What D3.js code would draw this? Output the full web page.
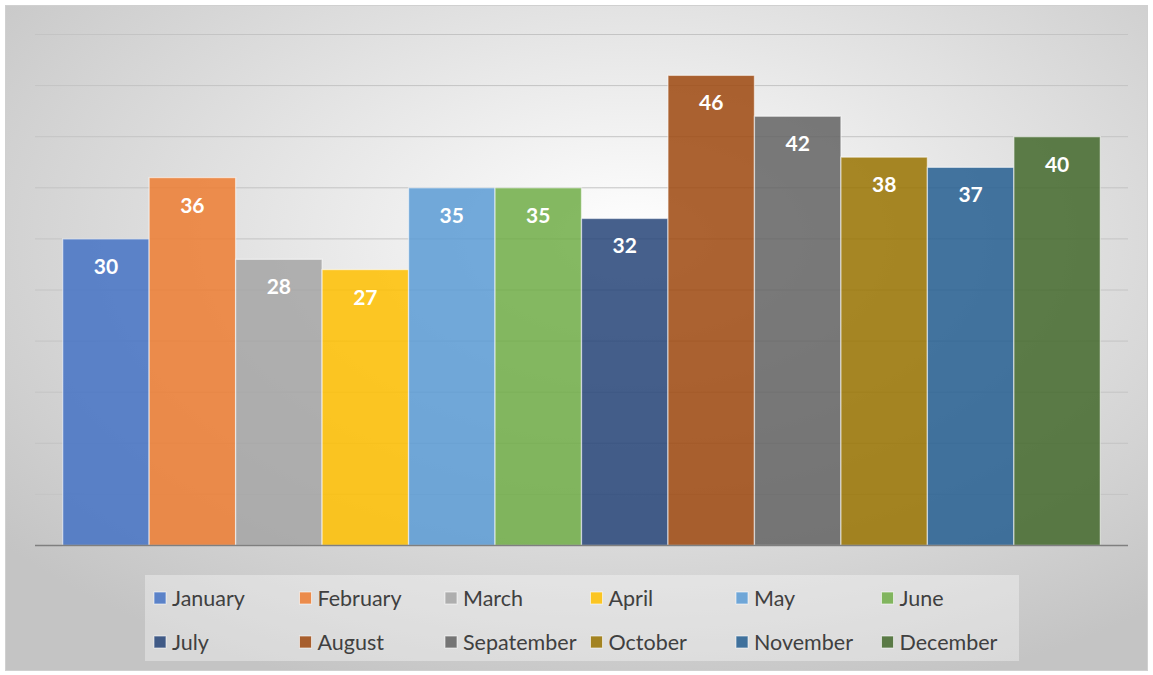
<!DOCTYPE html>
<html>
<head>
<meta charset="utf-8">
<script src="https://cdn.jsdelivr.net/npm/d3@7"></script>
<style>
  body { margin: 0; background: #fff; }
  svg { display: block; font-family: Lato, "Open Sans", sans-serif; }
</style>
</head>
<body>
<svg width="1153" height="675"></svg>
<script>
// months and their values
var months = ["January", "February", "March", "April", "May", "June",
              "July", "August", "Sepatember", "October", "November", "December"];
var values = [30, 36, 28, 27, 35, 35, 32, 46, 42, 38, 37, 40];
var colors = ["#4472C4", "#ED7D31", "#A5A5A5", "#FFC000", "#5B9BD5", "#70AD47",
              "#264478", "#9E480E", "#636363", "#997300", "#255E91", "#43682B"];
var yTicks = [0, 5, 10, 15, 20, 25, 30, 35, 40, 45, 50];

var svg = d3.select("svg");

var defs = svg.append("defs");
var grad = defs.append("radialGradient")
    .attr("id", "bg")
    .attr("cx", "55%").attr("cy", "35%").attr("r", "72%");
grad.append("stop").attr("offset", "0%").attr("stop-color", "#ffffff");
grad.append("stop").attr("offset", "100%").attr("stop-color", "#c4c4c4");

// chart area
svg.append("rect")
    .attr("x", 5.5).attr("y", 5.5)
    .attr("width", 1142).attr("height", 665)
    .attr("fill", "url(#bg)")
    .attr("stroke", "#d0d0d0")
    .attr("stroke-width", 1);

var pLeft = 35, pRight = 1128, pTop = 34.5, pBottom = 545.5;

var x = d3.scaleBand().domain(months).range([pLeft, pRight])
    .paddingInner(0).paddingOuter(0.32);
var y = d3.scaleLinear().domain([0, 50]).range([pBottom, pTop]);

// gridlines
svg.append("g").selectAll("line")
    .data(yTicks.filter(d => d > 0))
    .enter().append("line")
    .attr("x1", pLeft).attr("x2", pRight)
    .attr("y1", d => y(d)).attr("y2", d => y(d))
    .attr("stroke", "#c4c4c4")
    .attr("stroke-width", 1);

// bars
svg.append("g").selectAll("rect")
    .data(values)
    .enter().append("rect")
    .attr("x", (d, i) => x(months[i]))
    .attr("y", d => y(d))
    .attr("width", x.bandwidth())
    .attr("height", d => pBottom - y(d))
    .attr("fill", (d, i) => colors[i])
    .attr("fill-opacity", 0.85)
    .attr("stroke", "rgba(255,255,255,0.55)")
    .attr("stroke-width", 1.3);

// axis line
svg.append("line")
    .attr("x1", pLeft).attr("x2", pRight)
    .attr("y1", pBottom).attr("y2", pBottom)
    .attr("stroke", "#7f7f7f").attr("stroke-width", 1.5);

// value labels
svg.append("g").selectAll("text")
    .data(values)
    .enter().append("text")
    .attr("x", (d, i) => x(months[i]) + x.bandwidth() / 2)
    .attr("y", d => y(d) + 35)
    .attr("text-anchor", "middle")
    .attr("fill", "#ffffff")
    .attr("font-weight", "bold")
    .attr("font-size", 21)
    .text(d => d);

// legend
svg.append("rect")
    .attr("x", 145).attr("y", 575)
    .attr("width", 874).attr("height", 86)
    .attr("fill", "#ffffff").attr("fill-opacity", 0.35);

var leg = svg.append("g").selectAll("g")
    .data(months)
    .enter().append("g")
    .attr("transform", (d, i) => "translate(" + (154 + (i % 6) * 145.5) + "," + (i < 6 ? 598 : 642) + ")");

leg.append("rect")
    .attr("x", 0).attr("y", -6)
    .attr("width", 12).attr("height", 12)
    .attr("fill", (d, i) => colors[i])
    .attr("fill-opacity", 0.85)
    .attr("stroke", "rgba(255,255,255,0.6)");

leg.append("text")
    .attr("x", 18).attr("y", 8)
    .attr("fill", "#404040")
    .attr("font-size", 21.5)
    .text(d => d);
</script>
</body>
</html>
